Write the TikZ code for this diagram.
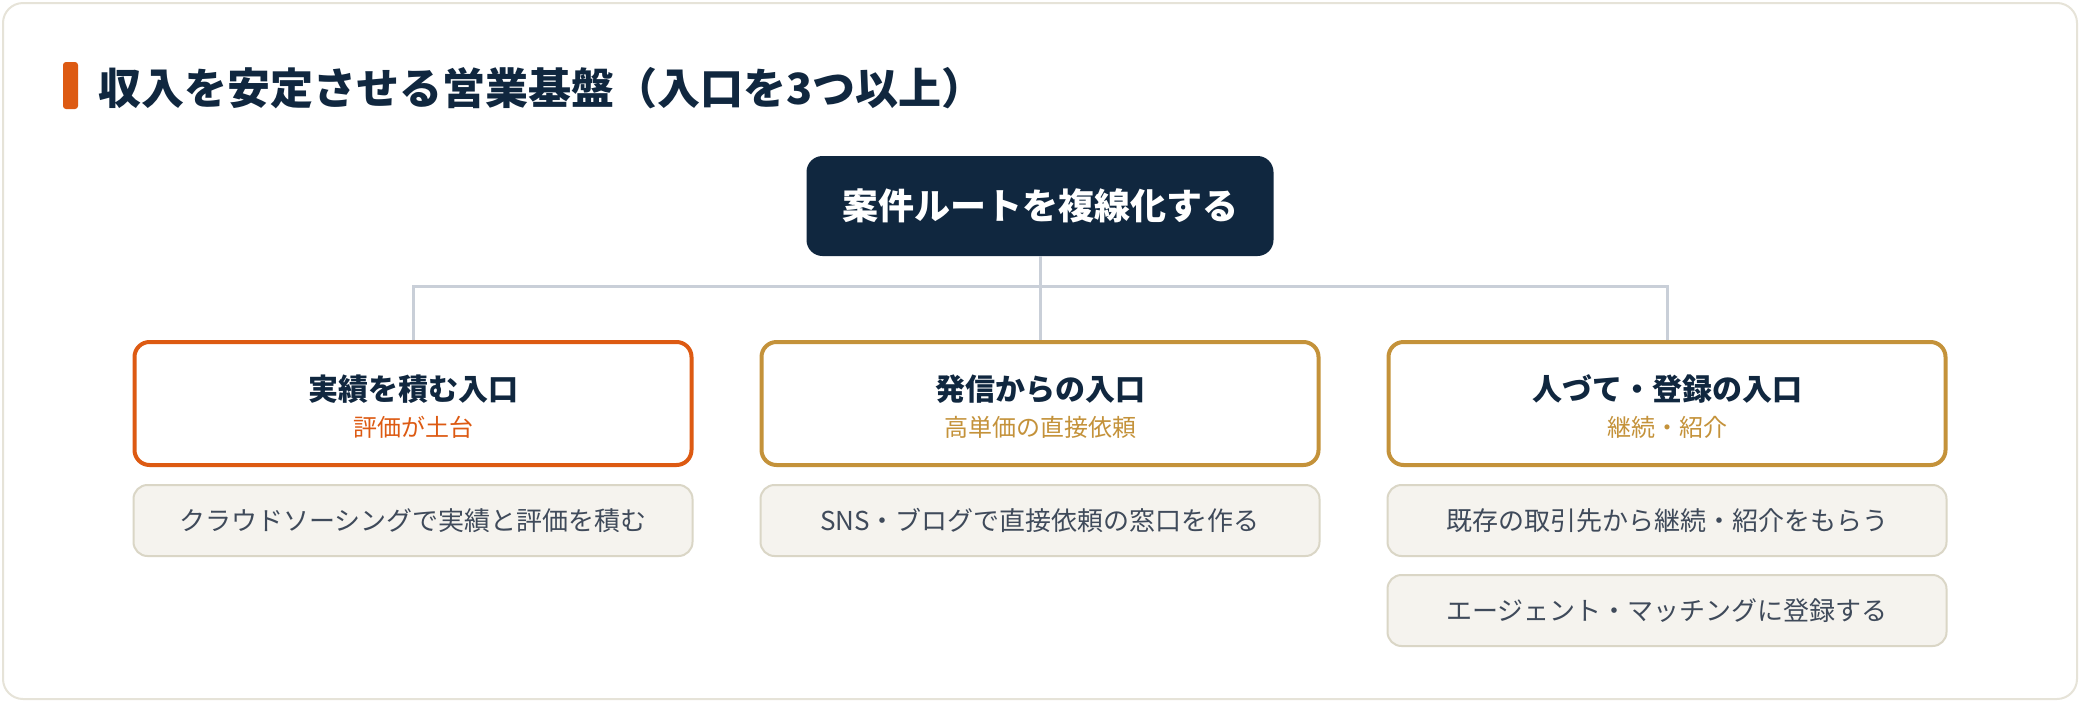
\documentclass[tikz,border=0pt]{standalone}
\usepackage{fontspec}
\setmainfont{Noto Sans CJK JP}
\definecolor{navy}{HTML}{10273F}
\definecolor{rust}{HTML}{DD5A12}
\definecolor{ochre}{HTML}{C4923A}
\definecolor{wire}{HTML}{C9CFD8}
\definecolor{paper}{HTML}{F5F3EE}
\definecolor{rim}{HTML}{DAD6C6}
\definecolor{frameline}{HTML}{E6E3D8}
\definecolor{slate}{HTML}{3F4A5A}
\begin{document}
\begin{tikzpicture}[x=1pt,y=-1pt,
  root/.style={fill=navy, rounded corners=16pt, inner sep=0pt, minimum width=467pt, minimum height=100pt, text=white, font=\fontsize{36}{40}\selectfont\bfseries},
  entry/.style={draw=#1, line width=4pt, fill=white, rounded corners=15pt, minimum width=557pt, minimum height=123pt},
  head/.style={inner sep=0pt, text=navy, font=\fontsize{30}{34}\selectfont\bfseries},
  sub/.style={inner sep=0pt, text=#1, font=\fontsize{24}{28}\selectfont},
  way/.style={draw=rim, line width=2pt, fill=paper, rounded corners=14pt, inner sep=0pt, minimum width=559pt, minimum height=71pt, text=slate, font=\fontsize{26}{30}\selectfont},
  link/.style={draw=wire, line width=3pt}]
\useasboundingbox (0,0) rectangle (2080,702);
\draw[frameline, line width=2pt, fill=white, rounded corners=20pt] (3,3) rectangle (2077,699);

% title
\fill[rust, rounded corners=3pt] (63,62) rectangle (78,109);
\node[anchor=west, inner sep=0pt, text=navy, font=\fontsize{43}{48}\selectfont\bfseries] (title) at (98,88) {収入を安定させる営業基盤（入口を3つ以上）};

\node[root] (root) at (1040,206) {案件ルートを複線化する};

\node[entry=rust] (b1) at (413,403.5) {};
\node[entry=ochre] (b2) at (1040,403.5) {};
\node[entry=ochre] (b3) at (1667,403.5) {};
\node[head] (b1h) at (413,389) {実績を積む入口};
\node[sub=rust] (b1s) at (413,427) {評価が土台};
\node[head] (b2h) at (1040,389) {発信からの入口};
\node[sub=ochre] (b2s) at (1040,427) {高単価の直接依頼};
\node[head] (b3h) at (1667,389) {人づて・登録の入口};
\node[sub=ochre] (b3s) at (1667,427) {継続・紹介};

\node[way] (w1) at (413,520.5) {クラウドソーシングで実績と評価を積む};
\node[way] (w2) at (1040,520.5) {SNS・ブログで直接依頼の窓口を作る};
\node[way] (w3) at (1667,520.5) {既存の取引先から継続・紹介をもらう};
\node[way] (w4) at (1667,610.5) {エージェント・マッチングに登録する};

\coordinate (bus) at (1040,286);
\path[link] (root.south) -- (b2.north);
\path[link] (b1.north) |- (bus) -| (b3.north);
\end{tikzpicture}
\end{document}
